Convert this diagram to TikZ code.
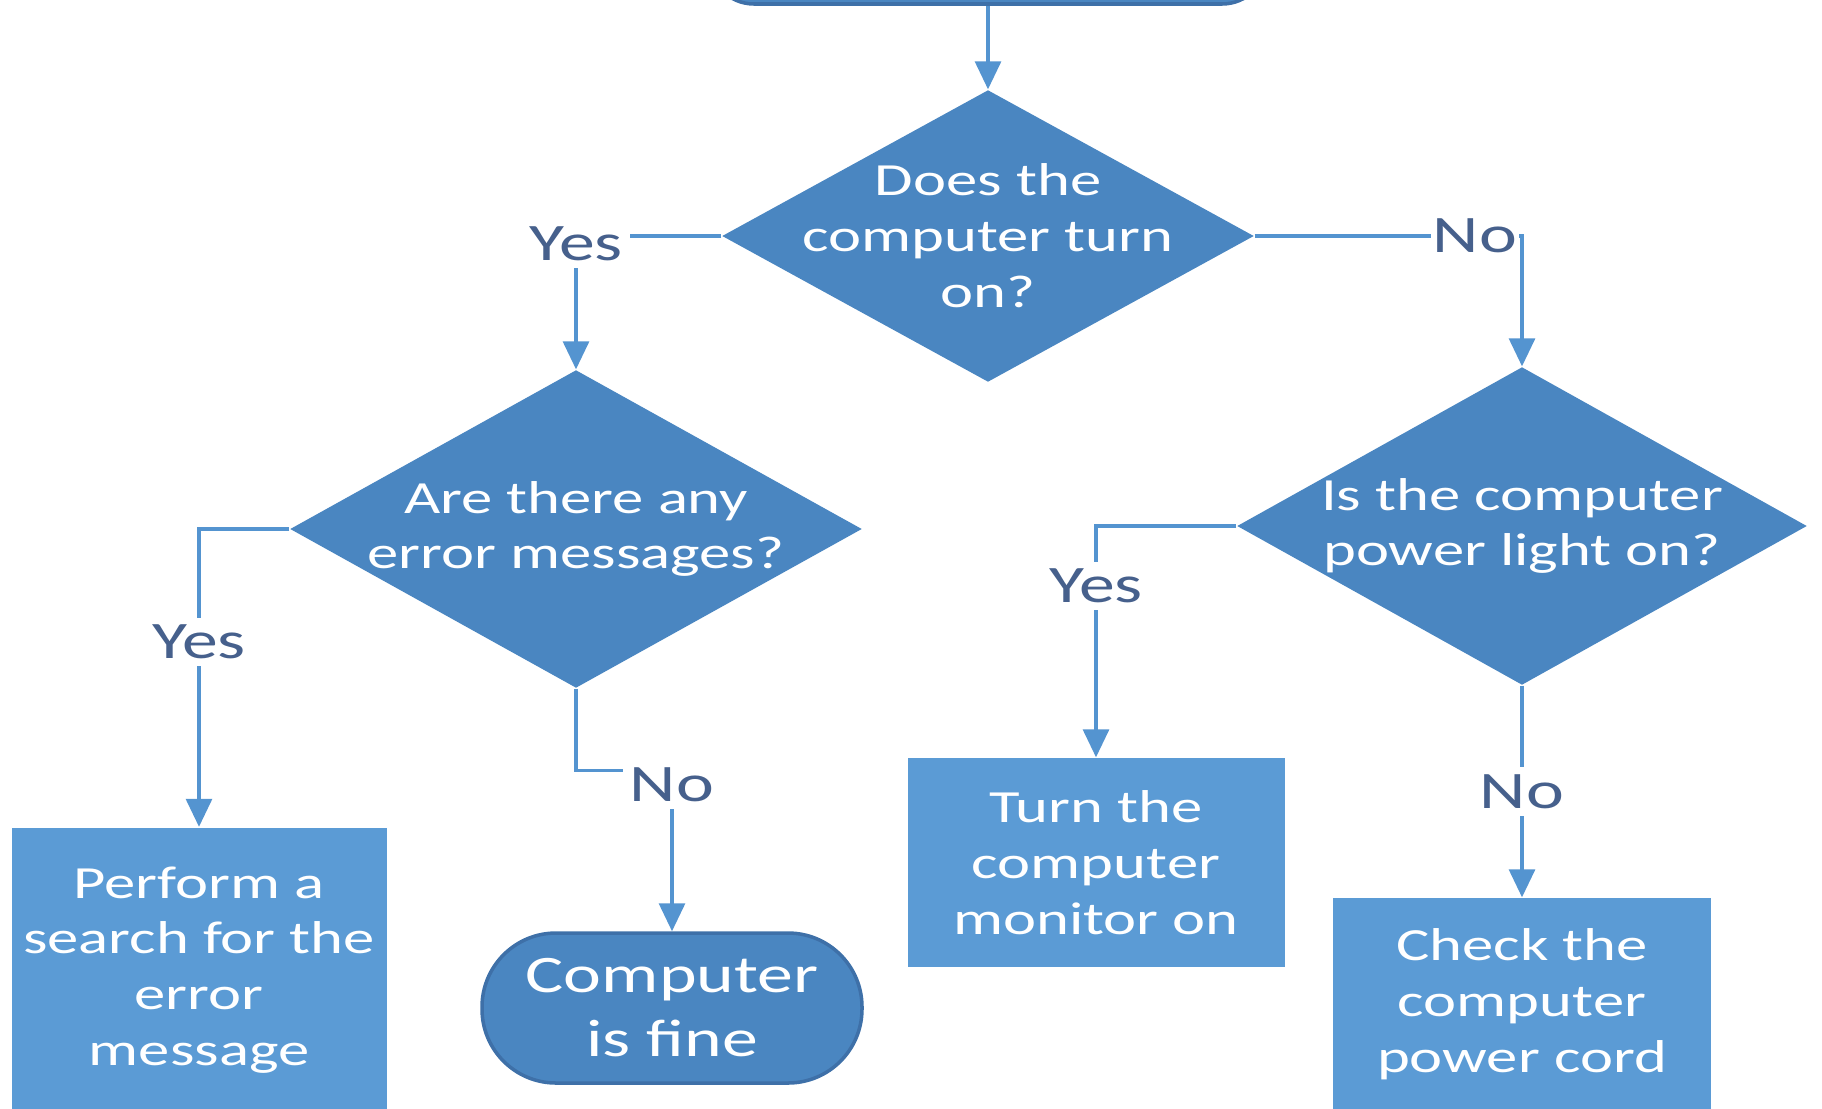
\documentclass[tikz,border=0pt]{standalone}
\usepackage{fontspec}
\setmainfont{Carlito}[FakeStretch=1.36]
\usepackage{tikz}
\usetikzlibrary{shapes.geometric,arrows.meta,calc}

\definecolor{decblue}{RGB}{74,134,193}
\definecolor{boxblue}{RGB}{91,155,213}
\definecolor{termline}{RGB}{62,112,168}
\definecolor{lblgray}{RGB}{70,96,140}
\definecolor{lineblue}{RGB}{84,148,208}

\begin{document}
\begin{tikzpicture}[
    flow/.style={draw=lineblue, line width=0.9pt, -{Triangle[width=0.26cm,length=0.28cm]}},
    decision/.style={diamond, fill=decblue, inner sep=0pt},
    qtext/.style={text=white, align=center, font=\fontsize{13.1}{15.9}\selectfont},
    action/.style={rectangle, fill=boxblue, text=white, align=center, inner sep=0pt, font=\fontsize{13.1}{15.9}\selectfont},
    terminal/.style={rectangle, rounded corners=0.74cm, fill=decblue, draw=termline, line width=1pt, text=white, align=center, inner sep=0pt},
    lbl/.style={fill=white, text=lblgray, inner sep=2pt, font=\fontsize{15}{18}\selectfont}]

    % page frame
    \useasboundingbox (0,0) rectangle (18.22,-11.08);
    \clip (0,0) rectangle (18.22,-11.08);

    % start shape, cut off by the top edge
    \node[terminal, rounded corners=0.45cm, minimum width=5.58cm, minimum height=1.2cm] (start) at (9.88,0.56) {};

    % decisions
    \node[decision, minimum width=5.32cm, minimum height=2.92cm] (dturn) at (9.88,-2.36) {};
    \node[qtext] (dturn-t) at (dturn) {Does the\\computer turn\\on?};
    \node[decision, minimum width=5.72cm, minimum height=3.18cm] (derr) at (5.76,-5.29) {};
    \node[qtext] (derr-t) at (derr) {Are there any\\error messages?};
    \node[decision, minimum width=5.70cm, minimum height=3.18cm] (dlight) at (15.22,-5.26) {};
    \node[qtext] (dlight-t) at (dlight) {Is the computer\\power light on?};

    % actions and end
    \node[action, minimum width=3.75cm, minimum height=2.85cm] (search) at (1.99,-9.70) {Perform a\\search for the\\error\\message};
    \node[terminal, minimum width=3.80cm, minimum height=1.50cm, font=\fontsize{15}{18.2}\selectfont] (fine) at (6.72,-10.08) {Computer\\is fine};
    \node[action, minimum width=3.77cm, minimum height=2.09cm] (monitor) at (10.96,-8.625) {Turn the\\computer\\monitor on};
    \node[action, minimum width=3.78cm, minimum height=2.12cm] (cord) at (15.22,-10.04) {Check the\\computer\\power cord};

    % connectors
    \draw[flow] (start) -- (dturn);
    \draw[flow] (dturn.west) -| node[lbl, yshift=-0.08cm] (l-yes1) {Yes} (derr.north);
    \draw[flow] (dturn.east) -| node[lbl, anchor=east, inner xsep=0.5pt, xshift=-0.5pt] (l-no1) {No} (dlight.north);
    \draw[flow] (derr.west) -| node[lbl, pos=0.69] (l-yes2) {Yes} (search.north);
    \draw[flow] (derr.south) -- ++(0,-0.82) -| node[lbl, yshift=-0.14cm] (l-no2) {No} (fine.north);
    \draw[flow] (dlight.west) -| node[lbl, pos=0.63] (l-yes3) {Yes} (monitor.north);
    \draw[flow] (dlight.south) -- node[lbl] (l-no3) {No} (cord.north);
\end{tikzpicture}
\end{document}
